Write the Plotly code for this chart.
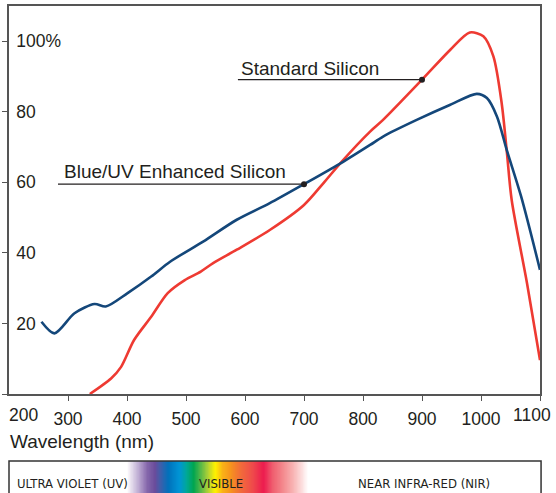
import numpy as np
import plotly.graph_objects as go

# ---------------- data ----------------
blue_nm = [255, 277, 311, 345, 364, 401, 441, 473, 529, 586, 642, 700, 767, 812, 834,
           891, 948, 993, 1010, 1027, 1044, 1068, 1100]
blue_pct = [20.5, 17.2, 22.9, 25.5, 24.8, 28.6, 33.3, 37.5, 43.2, 49.4, 54.1, 59.5, 65.9,
            70.6, 73.0, 77.7, 82.0, 85.1, 83.9, 78.7, 69.0, 56.0, 35.2]

red_nm = [337, 373, 390, 412, 441, 469, 498, 525, 546, 586, 642, 700, 733, 764, 812, 834,
          900, 948, 981, 1004, 1021, 1035, 1044, 1052, 1078, 1100]
red_pct = [0.0, 4.4, 7.7, 15.3, 21.9, 28.6, 32.3, 34.7, 37.1, 40.9, 46.5, 53.6, 59.8, 65.9,
           74.4, 77.7, 89.1, 97.6, 102.5, 101.4, 95.7, 82.5, 68.3, 55.0, 31.4, 9.6]

x_ticks = [200, 300, 400, 500, 600, 700, 800, 900, 1000, 1100]
x_tick_text = ["200", "300", "400", "500", "600", "700", "800", "900", "1000", "1100"]
y_ticks = [0, 20, 40, 60, 80, 100]
y_tick_text = ["", "20", "40", "60", "80", "100%"]

label_std = "Standard Silicon"
label_blue = "Blue/UV Enhanced Silicon"
std_point = (900, 89.1)
blue_point = (700, 59.5)

band_labels = ["ULTRA VIOLET (UV)", "VISIBLE", "NEAR INFRA-RED (NIR)"]

# visible spectrum gradient (wavelength -> colour)
spec_nm = [400, 405, 420, 434, 447, 456, 470, 488, 500, 512, 525, 537, 549, 561, 575,
           592, 612, 631, 647, 665, 681, 695, 706, 712]
spec_col = ["#ffffff", "#ece6f2", "#b9a6d0", "#8466ab", "#6a4c9c", "#3f5fab", "#0072bc",
            "#0095d6", "#00a89a", "#00a651", "#5bb947", "#b2d235", "#fff200", "#fbb316",
            "#f7941d", "#f26c3a", "#ef4b4b", "#ed1c4f", "#f06070", "#f48c90", "#f8b4b4",
            "#fcdcdc", "#ffffff", "#ffffff"]

# ---------------- styles ----------------
RED = "#ee3a32"
BLUE = "#14477a"
INK = "#231f20"
AX = "#555555"
FONT = "Liberation Sans, Arial, sans-serif"
NARROW = "Liberation Sans Narrow, DejaVu Sans Condensed, Roboto Condensed, Arial Narrow, sans-serif"

W, H = 556, 493
TOP, BOT = 6, 0
ph = H - TOP - BOT
def py(px):  # pixel row -> paper y
    return (H - BOT - px) / ph

fig = go.Figure()

fig.add_trace(go.Scatter(x=red_nm, y=red_pct, mode="lines",
                         line=dict(color=RED, width=2.6, shape="spline", smoothing=0.8),
                         hoverinfo="skip"))
fig.add_trace(go.Scatter(x=blue_nm, y=blue_pct, mode="lines",
                         line=dict(color=BLUE, width=2.6, shape="spline", smoothing=0.8),
                         hoverinfo="skip"))

# leader lines + dots
fig.add_shape(type="line", xref="x", yref="y", x0=588, x1=std_point[0],
              y0=std_point[1], y1=std_point[1], line=dict(color=INK, width=1.3))
fig.add_shape(type="line", xref="x", yref="y", x0=283, x1=blue_point[0],
              y0=blue_point[1], y1=blue_point[1], line=dict(color=INK, width=1.3))
fig.add_trace(go.Scatter(x=[std_point[0], blue_point[0]], y=[std_point[1], blue_point[1]],
                         mode="markers", marker=dict(color=INK, size=6), hoverinfo="skip"))

fig.add_annotation(x=590, y=92.3, xref="x", yref="y", text=label_std, showarrow=False,
                   xanchor="left", yanchor="middle", font=dict(family=FONT, size=19, color=INK))
fig.add_annotation(x=289, y=63.1, xref="x", yref="y", text=label_blue, showarrow=False,
                   xanchor="left", yanchor="middle", font=dict(family=FONT, size=19, color=INK))

# spectrum strip (heatmap on second axes)
grad_x = np.arange(spec_nm[0], spec_nm[-1] + 1, 1)
fig.add_trace(go.Heatmap(x=grad_x, y=[0], z=[grad_x], xaxis="x2", yaxis="y2",
                         zmin=spec_nm[0], zmax=spec_nm[-1],
                         colorscale=[[(v - spec_nm[0]) / (spec_nm[-1] - spec_nm[0]), c]
                                     for v, c in zip(spec_nm, spec_col)],
                         showscale=False, hoverinfo="skip", zsmooth="best"))

fig.add_shape(type="path", xref="paper", yref="paper",
              path=f"M 0 -0.05 L 0 {py(461)} L 1.002 {py(461)} L 1.002 -0.05",
              line=dict(color="#333333", width=1.5))

fig.add_annotation(x=0.011, y=py(483), xref="paper", yref="paper", text=band_labels[0],
                   showarrow=False, xanchor="left", yanchor="middle",
                   font=dict(family=NARROW, size=13, color=INK))
fig.add_annotation(x=0.399, y=py(483), xref="paper", yref="paper", text=band_labels[1],
                   showarrow=False, xanchor="center", yanchor="middle",
                   font=dict(family=NARROW, size=13, color=INK))
fig.add_annotation(x=0.7815, y=py(483), xref="paper", yref="paper", text=band_labels[2],
                   showarrow=False, xanchor="center", yanchor="middle",
                   font=dict(family=NARROW, size=13, color=INK))

fig.add_annotation(x=-0.002, y=py(441), xref="paper", yref="paper", text="Wavelength (nm)",
                   showarrow=False, xanchor="left", yanchor="middle",
                   font=dict(family=FONT, size=19, color=INK))

# end tick labels, kept inside the figure as in the reference
fig.add_annotation(x=-0.004, y=py(415), xref="paper", yref="paper", text=x_tick_text[0],
                   showarrow=False, xanchor="left", yanchor="middle",
                   font=dict(family=FONT, size=17.5, color=INK))
fig.add_annotation(x=1.025, y=py(415), xref="paper", yref="paper", text=x_tick_text[-1],
                   showarrow=False, xanchor="right", yanchor="middle",
                   font=dict(family=FONT, size=17.5, color=INK))

fig.update_layout(
    width=W, height=H,
    margin=dict(l=9, r=16, t=TOP, b=BOT, autoexpand=False),
    paper_bgcolor="white", plot_bgcolor="white",
    showlegend=False,
    xaxis=dict(range=[200, 1100], domain=[0, 1], anchor="y", automargin=False,
               tickvals=x_ticks, ticktext=[""] + x_tick_text[1:-1] + [""],
               ticks="outside", ticklen=5, tickwidth=1.3, tickcolor=AX,
               ticklabelstandoff=3,
               showline=True, linecolor=AX, linewidth=1.5, mirror=True,
               showgrid=False, zeroline=False,
               tickfont=dict(family=FONT, size=17.5, color=INK)),
    yaxis=dict(range=[0, 110], domain=[py(394), 1], anchor="x", automargin=False,
               tickvals=y_ticks, ticktext=y_tick_text, ticks="outside", ticklen=5,
               tickwidth=1.3, tickcolor=AX, ticklabelposition="inside",
               ticklabelstandoff=8,
               showline=True, linecolor=AX, linewidth=1.5, mirror=True,
               showgrid=False, zeroline=False,
               tickfont=dict(family=FONT, size=17.5, color=INK)),
    xaxis2=dict(range=[200, 1100], domain=[0, 1], anchor="y2", visible=False),
    yaxis2=dict(range=[-0.5, 0.5], domain=[0, py(461)], anchor="x2", visible=False),
)

fig.write_html("out.html", config={"displayModeBar": False},
               post_script="document.body.style.margin='0';document.body.style.overflow='hidden';")
